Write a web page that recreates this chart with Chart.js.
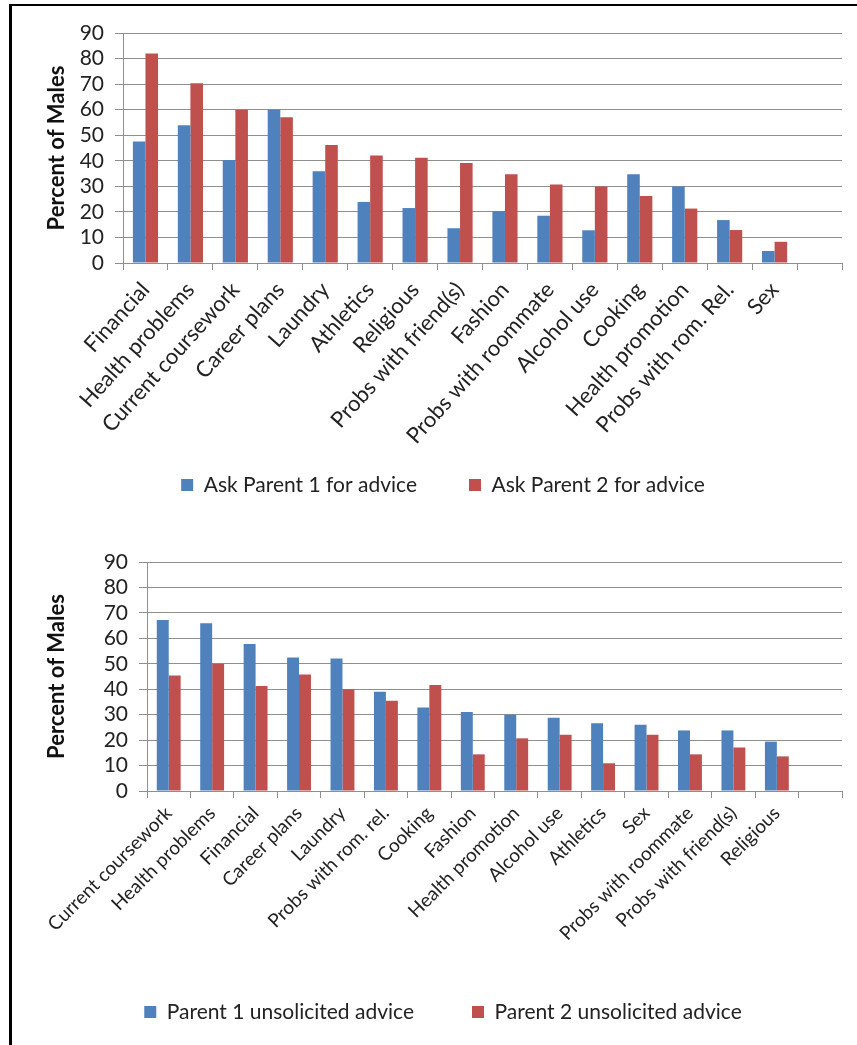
<!DOCTYPE html>
<html>
<head>
<meta charset="utf-8">
<script src="https://cdn.jsdelivr.net/npm/chart.js@4.4.1/dist/chart.umd.min.js"></script>
<style>
    body { margin: 0; background: #fff; }
    #page { position: relative; width: 857px; height: 1045px; overflow: hidden; }
    .box { position: absolute; left: 0; width: 857px; }
    #frame { position: absolute; left: 9px; top: 4px; width: 860px; height: 1060px;
             border-top: 2px solid #000; border-left: 3px solid #000; pointer-events: none; }
</style>
</head>
<body>
<div id="page">
    <div class="box" style="top:0; height:525px;"><canvas id="chartAsk"></canvas></div>
    <div class="box" style="top:525px; height:520px;"><canvas id="chartUnsolicited"></canvas></div>
    <div id="frame"></div>
</div>
<script>
// Topics, in the order each chart sorts them (last slot left empty)
const askTopics = ['Financial', 'Health problems', 'Current coursework', 'Career plans', 'Laundry',
    'Athletics', 'Religious', 'Probs with friend(s)', 'Fashion', 'Probs with roommate',
    'Alcohol use', 'Cooking', 'Health promotion', 'Probs with rom. Rel.', 'Sex', ''];
const askParent1 = [47.5, 53.9, 40.3, 60.0, 35.9, 23.9, 21.5, 13.6, 20.3, 18.5, 12.8, 34.7, 29.9, 16.8, 4.7, null];
const askParent2 = [82.0, 70.3, 60.0, 57.0, 46.2, 42.1, 41.2, 39.1, 34.7, 30.7, 29.9, 26.2, 21.3, 12.9, 8.3, null];

const unsolicitedTopics = ['Current coursework', 'Health problems', 'Financial', 'Career plans', 'Laundry',
    'Probs with rom. rel.', 'Cooking', 'Fashion', 'Health promotion', 'Alcohol use',
    'Athletics', 'Sex', 'Probs with roommate', 'Probs with friend(s)', 'Religious', ''];
const unsolicitedParent1 = [67.2, 65.9, 57.8, 52.5, 52.1, 39.0, 32.8, 31.0, 30.0, 28.8, 26.6, 26.0, 23.8, 23.8, 19.4, null];
const unsolicitedParent2 = [45.4, 50.0, 41.3, 45.8, 40.0, 35.5, 41.7, 14.4, 20.7, 22.1, 10.9, 22.1, 14.4, 17.1, 13.6, null];

// Y axis: 0 to 90 in steps of 10
const yMin = 0;
const yMax = 90;
const yStep = 10;
const yTitle = 'Percent of Males';

const BLUE = '#4F81BD';
const RED = '#C0504D';
const GRID = '#8f8f8f';
const FONT = 'Lato, "Open Sans", sans-serif';

// Draws one grouped bar chart; the layout numbers put the plot area where we want it
const makeChart = (id, labels, series, layout) => {
    const ctx = document.getElementById(id).getContext('2d');
    return new Chart(ctx, {
        type: 'bar',
        data: {
            labels: labels,
            datasets: series.map((s, i) => ({
                label: s.label,
                data: s.data,
                backgroundColor: i === 0 ? BLUE : RED,
                borderWidth: 0,
                categoryPercentage: layout.catPct,
                barPercentage: 1.0
            }))
        },
        options: {
            responsive: true,
            maintainAspectRatio: false,
            animation: false,
            layout: { padding: { top: layout.top, right: 15, bottom: layout.bottom, left: 44 } },
            plugins: {
                tooltip: { enabled: false },
                legend: {
                    position: 'bottom',
                    labels: {
                        boxWidth: 12,
                        boxHeight: 12,
                        padding: layout.legendGap,
                        color: '#222',
                        font: { family: FONT, size: 21 }
                    }
                }
            },
            scales: {
                x: {
                    offset: true,
                    afterFit: (scale) => {
                        scale.height = layout.xHeight;
                        // long rotated labels run past the axis box, so don't clip them
                        scale._computeLabelArea = () => null;
                    },
                    grid: { offset: true, drawOnChartArea: false, drawTicks: true, tickLength: 7, color: GRID },
                    border: { color: GRID, width: 1 },
                    ticks: {
                        autoSkip: false,
                        minRotation: layout.rotation,
                        maxRotation: layout.rotation,
                        padding: layout.labelPad,
                        color: '#222',
                        font: { family: FONT, size: layout.labelSize }
                    }
                },
                y: {
                    min: yMin,
                    max: yMax,
                    afterFit: (scale) => { scale.width = layout.yWidth; },
                    grid: { color: GRID, lineWidth: 1, tickLength: 8 },
                    border: { color: GRID, width: 1 },
                    ticks: {
                        stepSize: yStep,
                        autoSkip: false,
                        padding: 11,
                        color: '#222',
                        font: { family: FONT, size: 21 }
                    },
                    title: {
                        display: true,
                        text: yTitle,
                        color: '#111',
                        padding: { top: 0, bottom: 0 },
                        font: { family: FONT, size: 22, weight: 'bold' }
                    }
                }
            }
        }
    });
};

makeChart('chartAsk', askTopics, [
    { label: 'Ask Parent 1 for advice', data: askParent1 },
    { label: 'Ask Parent 2 for advice', data: askParent2 }
], { top: 33, bottom: 19.5, xHeight: 159.5, yWidth: 79, catPct: 0.56, legendGap: 52,
     rotation: 48, labelSize: 22, labelPad: 7 });

makeChart('chartUnsolicited', unsolicitedTopics, [
    { label: 'Parent 1 unsolicited advice', data: unsolicitedParent1 },
    { label: 'Parent 2 unsolicited advice', data: unsolicitedParent2 }
], { top: 37, bottom: 12.5, xHeight: 152.5, yWidth: 103, catPct: 0.55, legendGap: 58,
     rotation: 45, labelSize: 19, labelPad: 4 });
</script>
</body>
</html>
